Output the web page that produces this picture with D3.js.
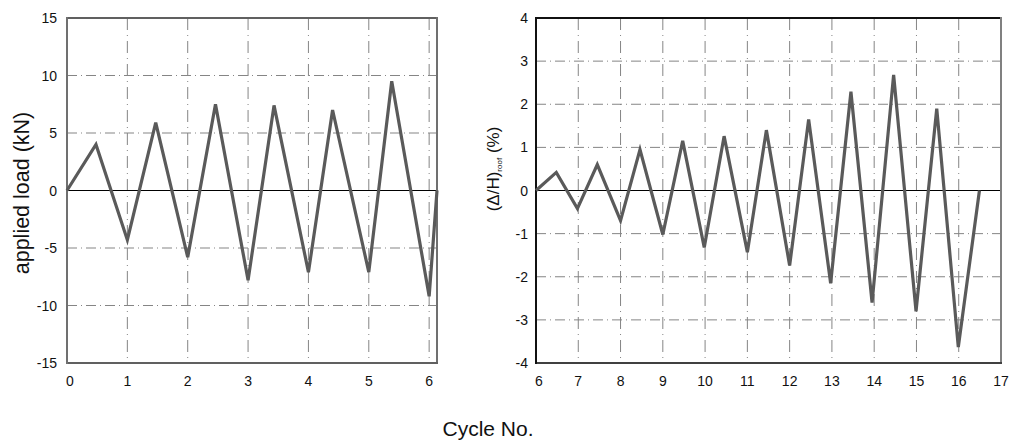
<!DOCTYPE html>
<html>
<head>
<meta charset="utf-8">
<script src="https://cdn.jsdelivr.net/npm/d3@7"></script>
<style>
  body { margin: 0; background: #fff; }
  text { font-family: "Liberation Sans", Arial, sans-serif; fill: #111; }
</style>
</head>
<body>
<div id="chart"></div>
<script>
// load history (left) - cycle no. vs applied load (kN)
const loadCycles = [0, 0.48, 1, 1.47, 2, 2.46, 3, 3.43, 4, 4.4, 5, 5.38, 6, 6.13];
const loadValues = [0, 4.0, -4.3, 5.9, -5.8, 7.5, -7.8, 7.4, -7.1, 7.0, -7.1, 9.5, -9.2, 0];

// drift history (right) - cycle no. vs roof drift (%)
const driftCycles = [6, 6.48, 6.98, 7.45, 8, 8.46, 9, 9.47, 9.98, 10.45, 11, 11.45, 12, 12.45, 12.97, 13.45, 13.95, 14.46, 14.99, 15.48, 15.99, 16.49];
const driftValues = [0, 0.42, -0.42, 0.6, -0.7, 0.95, -1.02, 1.15, -1.32, 1.26, -1.43, 1.4, -1.74, 1.65, -2.15, 2.29, -2.6, 2.68, -2.8, 1.9, -3.63, 0];

// tick labels
const loadXTicks = [0, 1, 2, 3, 4, 5, 6];
const loadYTicks = [-15, -10, -5, 0, 5, 10, 15];
const driftXTicks = [6, 7, 8, 9, 10, 11, 12, 13, 14, 15, 16, 17];
const driftYTicks = [-4, -3, -2, -1, 0, 1, 2, 3, 4];

const width = 1010, height = 441;
const svg = d3.select('#chart').append('svg')
    .attr('width', width)
    .attr('height', height);

const plotTop = 18, plotBottom = 363;

function drawPanel(opt) {
    const x = d3.scaleLinear().domain(opt.xDomain).range([opt.left, opt.right]);
    const y = d3.scaleLinear().domain(opt.yDomain).range([plotBottom, plotTop]);
    const g = svg.append('g');

    // vertical grid lines
    g.selectAll('.vgrid')
        .data(opt.xTicks.filter(d => d > opt.xDomain[0] && d < opt.xDomain[1]))
        .enter().append('line')
        .attr('x1', d => x(d)).attr('x2', d => x(d))
        .attr('y1', plotTop).attr('y2', plotBottom)
        .style('stroke', '#858585')
        .style('stroke-width', 1)
        .style('stroke-dasharray', '12,5,1,5');

    // horizontal grid lines
    g.selectAll('.hgrid')
        .data(opt.yTicks.filter(d => d !== 0 && d > opt.yDomain[0] && d < opt.yDomain[1]))
        .enter().append('line')
        .attr('x1', opt.left).attr('x2', opt.right)
        .attr('y1', d => y(d)).attr('y2', d => y(d))
        .style('stroke', '#858585')
        .style('stroke-width', 1)
        .style('stroke-dasharray', '10,4,1,4');

    // zero line
    g.append('line')
        .attr('x1', opt.left).attr('x2', opt.right)
        .attr('y1', y(0)).attr('y2', y(0))
        .style('stroke', '#000')
        .style('stroke-width', 1);

    // frame
    const frame = [
        [opt.left, plotTop, opt.right, plotTop, opt.frameTop],
        [opt.right, plotTop, opt.right, plotBottom, opt.frameSide],
        [opt.left, plotBottom, opt.right, plotBottom, opt.frameBottom],
        [opt.left, plotTop, opt.left, plotBottom, opt.frameLeft]
    ];
    g.selectAll('.frame')
        .data(frame)
        .enter().append('line')
        .attr('x1', d => d[0]).attr('y1', d => d[1])
        .attr('x2', d => d[2]).attr('y2', d => d[3])
        .style('stroke', d => d[4])
        .style('stroke-width', 2)
        .style('stroke-linecap', 'square');

    // data line
    const line = d3.line()
        .x(d => x(d[0]))
        .y(d => y(d[1]));
    g.append('path')
        .datum(d3.zip(opt.xs, opt.ys))
        .attr('d', line)
        .style('fill', 'none')
        .style('stroke', '#5a5a5a')
        .style('stroke-width', 3.2)
        .style('stroke-linejoin', 'miter');

    // y tick labels
    g.selectAll('.ylab')
        .data(opt.yTicks)
        .enter().append('text')
        .attr('x', opt.left - opt.yLabGap)
        .attr('y', d => y(d) + 5)
        .style('text-anchor', 'end')
        .style('font-size', '14px')
        .text(d => d);

    // x tick labels
    g.selectAll('.xlab')
        .data(opt.xTicks)
        .enter().append('text')
        .attr('x', d => x(d) + (d === opt.xDomain[0] ? 3 : 0))
        .attr('y', 386)
        .style('text-anchor', 'middle')
        .style('font-size', '14px')
        .text(d => d);
}

drawPanel({
    left: 67, right: 437,
    xDomain: [0, 6.13], yDomain: [-15, 15],
    xTicks: loadXTicks, yTicks: loadYTicks,
    xs: loadCycles, ys: loadValues,
    yLabGap: 10,
    frameTop: '#606060', frameSide: '#707070', frameBottom: '#606060', frameLeft: '#707070'
});

drawPanel({
    left: 536, right: 1001,
    xDomain: [6, 17], yDomain: [-4, 4],
    xTicks: driftXTicks, yTicks: driftYTicks,
    xs: driftCycles, ys: driftValues,
    yLabGap: 8,
    frameTop: '#111', frameSide: '#808080', frameBottom: '#404040', frameLeft: '#111'
});

// y axis title (left)
svg.append('text')
    .attr('transform', 'translate(29,193) rotate(-90)')
    .style('text-anchor', 'middle')
    .style('font-size', '21.5px')
    .text('applied load (kN)');

// y axis title (right) with subscript
const rt = svg.append('text')
    .attr('transform', 'translate(499,169) rotate(-90)')
    .style('text-anchor', 'middle')
    .style('font-size', '17px');
rt.append('tspan').text('(\u0394/H)');
rt.append('tspan').attr('dy', 3).style('font-size', '8px').text('roof');
rt.append('tspan').attr('dy', -3).text(' (%)');

// x axis title
svg.append('text')
    .attr('x', 488)
    .attr('y', 436)
    .style('text-anchor', 'middle')
    .style('font-size', '21px')
    .text('Cycle No.');
</script>
</body>
</html>
